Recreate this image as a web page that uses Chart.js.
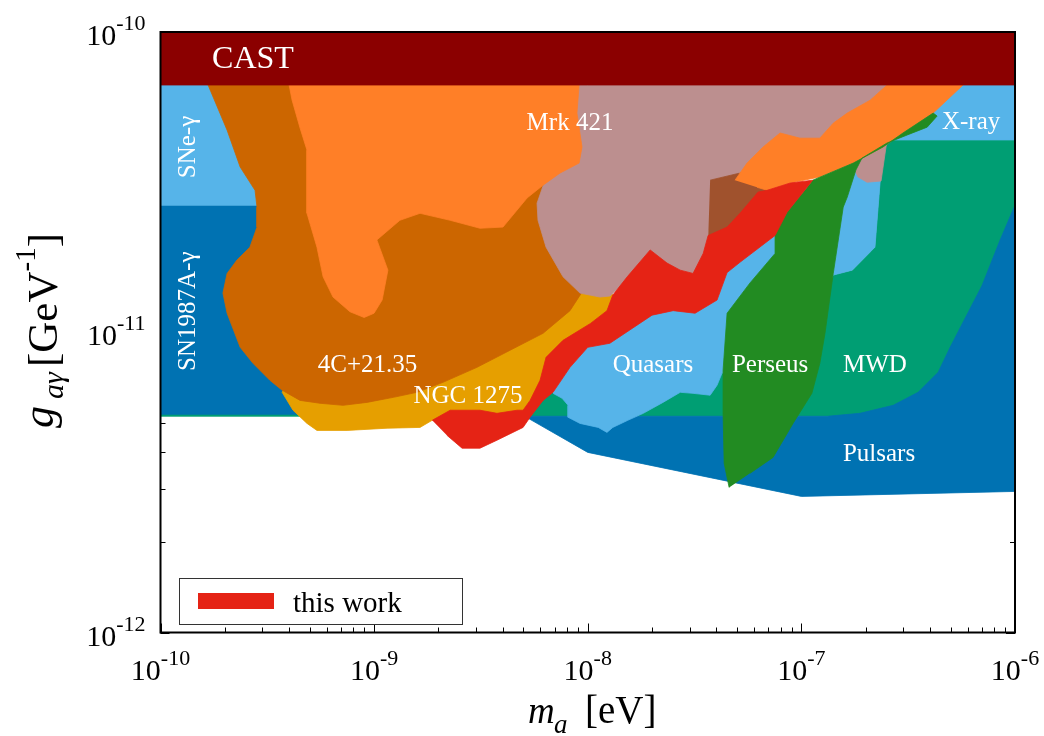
<!DOCTYPE html>
<html>
<head>
<meta charset="utf-8">
<script src="https://cdn.jsdelivr.net/npm/chart.js@4.4.1/dist/chart.umd.min.js"></script>
<style>
html,body{margin:0;padding:0;background:#ffffff;}
#wrap{width:1044px;height:736px;}
</style>
</head>
<body>
<div id="wrap"><canvas id="c" width="1044" height="736"></canvas></div>
<script>
// ---- axis ticks (exponents of the decades) ----
const xTickExps = [-10, -9, -8, -7, -6];
const yTickExps = [-12, -11, -10];

// ---- excluded regions: [m_a (eV), g_a\u03b3 (GeV^-1)] polygon vertices ----
const castRegion = [[1e-10,1e-10],[1e-6,1e-10],[1e-6,6.66e-11],[1e-10,6.66e-11]];
const sneGamma = [[1e-10,7e-11],[4.5e-10,7e-11],[4.5e-10,2.65e-11],[1e-10,2.65e-11]];
const sn1987a = [[1e-10,2.65e-11],[4.5e-10,2.65e-11],[4.5e-10,5.33e-12],[1e-10,5.33e-12]];
const xray = [[1.69e-7,7e-11],[1e-6,7e-11],[1e-6,4.37e-11],[1.69e-7,4.37e-11]];
const mwd = [[1e-10,5.25e-12],[1e-6,5.25e-12],[1e-6,4.37e-11],[2.47e-7,4.37e-11],[2.34e-7,3.21e-11],[2.21e-7,1.92e-11],[1.73e-7,1.61e-11],[1.41e-7,1.55e-11],[6.41e-8,1.015e-11],[3.36e-8,6.92e-12],[1.14e-8,6.66e-12],[4.82e-9,6.92e-12],[1e-10,6.92e-12]];
const pulsars = [[5.09e-9,5.25e-12],[1.32e-7,5.25e-12],[1.88e-7,5.37e-12],[2.69e-7,5.71e-12],[3.52e-7,6.31e-12],[4.37e-7,7.36e-12],[4.97e-7,8.91e-12],[5.84e-7,1.113e-11],[7.01e-7,1.43e-11],[8.52e-7,2.03e-11],[1e-6,2.65e-11],[1e-6,2.95e-12],[1.0e-7,2.84e-12],[1.0e-8,3.98e-12],[5.26e-9,5.17e-12]];
const quasars = [[6.88e-9,6.26e-12],[7.58e-9,6.03e-12],[8.09e-9,5.71e-12],[8.09e-9,5.21e-12],[9.2e-9,4.97e-12],[1.12e-8,4.82e-12],[1.23e-8,4.64e-12],[1.31e-8,4.82e-12],[1.54e-8,5.09e-12],[1.82e-8,5.37e-12],[2.25e-8,5.84e-12],[2.71e-8,6.31e-12],[3.11e-8,6.26e-12],[3.74e-8,6.17e-12],[4.03e-8,6.66e-12],[4.25e-8,7.30e-12],[6.41e-8,8.07e-12],[1.04e-7,1.015e-11],[1.41e-7,1.55e-11],[1.73e-7,1.61e-11],[2.21e-7,1.92e-11],[2.34e-7,3.21e-11],[2.34e-7,3.41e-11],[1.78e-7,3.60e-11],[1.22e-7,3.09e-11],[8.85e-8,2.75e-11],[6.41e-8,2.40e-11],[4.64e-8,1.95e-11],[3.36e-8,1.55e-11],[2.18e-8,1.38e-11],[1.42e-8,1.096e-11],[1.03e-8,9.40e-12],[7.83e-9,8.07e-12],[6.52e-9,6.66e-12]];
const ngc1275 = [[4.04e-10,6.92e-12],[3.71e-10,6.31e-12],[4.17e-10,5.50e-12],[4.85e-10,4.97e-12],[5.40e-10,4.71e-12],[7.47e-10,4.71e-12],[1.15e-9,4.79e-12],[1.64e-9,4.82e-12],[1.87e-9,5.09e-12],[2.53e-9,5.17e-12],[3.89e-9,5.09e-12],[5.09e-9,5.41e-12],[5.85e-9,6.17e-12],[6.81e-9,7.47e-12],[8.72e-9,9.40e-12],[1.23e-8,1.157e-11],[1.34e-8,1.32e-11],[1.14e-8,1.43e-11],[7.42e-9,1.38e-11],[2.27e-9,1.015e-11],[7.71e-10,7.47e-12]];
const fourC2135 = [[1.63e-10,7.0e-11],[1.67e-10,6.66e-11],[2.05e-10,4.71e-11],[2.36e-10,3.55e-11],[2.77e-10,2.97e-11],[2.83e-10,2.61e-11],[2.83e-10,2.24e-11],[2.62e-10,1.92e-11],[2.28e-10,1.74e-11],[2.05e-10,1.57e-11],[1.96e-10,1.35e-11],[2.05e-10,1.157e-11],[2.36e-10,8.91e-12],[2.71e-10,7.88e-12],[3.25e-10,6.92e-12],[3.71e-10,6.41e-12],[4.5e-10,5.93e-12],[5.58e-10,5.80e-12],[7.15e-10,5.71e-12],[9.26e-10,5.84e-12],[1.23e-9,6.07e-12],[1.59e-9,6.31e-12],[2.10e-9,6.81e-12],[3.03e-9,7.64e-12],[4.33e-9,8.71e-12],[6.18e-9,9.92e-12],[8.26e-9,1.18e-11],[9.40e-9,1.36e-11],[7.83e-9,2.03e-11],[7.42e-9,3.21e-11],[7.42e-9,7.0e-11]];
const mauveRegion = [[6.31e-9,7.0e-11],[6.31e-9,3.21e-11],[5.79e-9,2.69e-11],[5.85e-9,2.36e-11],[6.38e-9,1.92e-11],[7.66e-9,1.53e-11],[9.2e-9,1.35e-11],[1.14e-8,1.31e-11],[1.27e-8,1.32e-11],[1.53e-8,1.49e-11],[1.96e-8,1.83e-11],[2.35e-8,1.66e-11],[2.71e-8,1.57e-11],[3.11e-8,1.54e-11],[3.47e-8,1.79e-11],[3.66e-8,2.06e-11],[3.82e-8,2.75e-11],[5.16e-8,3.41e-11],[5.45e-8,3.34e-11],[9.86e-8,3.89e-11],[1.69e-7,4.54e-11],[1.69e-7,3.75e-11],[1.84e-7,3.29e-11],[2.03e-7,3.16e-11],[2.36e-7,3.19e-11],[2.49e-7,4.14e-11],[2.55e-7,4.54e-11],[3.06e-7,7.0e-11]];
const siennaRegion = [[3.74e-8,3.21e-11],[4.89e-8,3.36e-11],[6.41e-8,3.52e-11],[7.14e-8,2.86e-11],[5.45e-8,2.45e-11],[4.64e-8,2.15e-11],[3.66e-8,2.03e-11]];
const mrk421 = [[3.91e-10,7.0e-11],[4.0e-10,6.66e-11],[4.13e-10,5.93e-11],[4.5e-10,4.79e-11],[4.85e-10,4.04e-11],[4.85e-10,2.49e-11],[5.40e-10,1.92e-11],[5.77e-10,1.53e-11],[6.42e-10,1.31e-11],[7.71e-10,1.17e-11],[8.98e-10,1.12e-11],[9.99e-10,1.157e-11],[1.09e-9,1.28e-11],[1.16e-9,1.61e-11],[1.03e-9,2.03e-11],[1.32e-9,2.36e-11],[1.64e-9,2.49e-11],[2.27e-9,2.36e-11],[3.13e-9,2.22e-11],[4.01e-9,2.24e-11],[5.20e-9,2.80e-11],[6.18e-9,3.09e-11],[7.42e-9,3.39e-11],[9.11e-9,3.66e-11],[9.40e-9,4.14e-11],[8.90e-9,5.37e-11],[9.11e-9,6.66e-11],[9.11e-9,7.0e-11]];
const orangeBand = [[4.89e-8,3.21e-11],[5.57e-8,3.66e-11],[6.62e-8,4.14e-11],[7.95e-8,4.61e-11],[9.86e-8,4.43e-11],[1.22e-7,4.43e-11],[1.41e-7,4.97e-11],[1.64e-7,5.37e-11],[2.10e-7,5.93e-11],[2.52e-7,6.66e-11],[2.52e-7,7.0e-11],[5.71e-7,7.0e-11],[5.71e-7,6.66e-11],[4.14e-7,5.37e-11],[2.99e-7,4.61e-11],[2.41e-7,4.14e-11],[1.75e-7,3.66e-11],[1.22e-7,3.29e-11],[8.85e-8,3.14e-11],[6.91e-8,2.97e-11],[6.20e-8,3.04e-11]];
const perseus = [[4.59e-8,3.04e-12],[4.35e-8,3.66e-12],[4.30e-8,5.37e-12],[4.30e-8,7.47e-12],[4.49e-8,1.157e-11],[5.75e-8,1.46e-11],[7.53e-8,1.83e-11],[7.53e-8,2.14e-11],[8.57e-8,2.51e-11],[1.13e-7,3.21e-11],[1.75e-7,3.66e-11],[2.41e-7,4.14e-11],[2.99e-7,4.61e-11],[4.14e-7,5.37e-11],[4.32e-7,5.25e-11],[3.88e-7,4.82e-11],[3.13e-7,4.54e-11],[2.52e-7,4.27e-11],[1.92e-7,3.80e-11],[1.80e-7,3.47e-11],[1.64e-7,2.82e-11],[1.57e-7,2.61e-11],[1.41e-7,1.57e-11],[1.29e-7,9.92e-12],[1.22e-7,7.88e-12],[1.12e-7,6.26e-12],[9.14e-8,4.97e-12],[7.37e-8,3.83e-12],[5.75e-8,3.39e-12]];
const thisWork = [[1.87e-9,5.09e-12],[2.27e-9,5.50e-12],[3.13e-9,5.50e-12],[3.76e-9,5.37e-12],[4.67e-9,5.50e-12],[4.98e-9,5.50e-12],[5.37e-9,5.93e-12],[5.98e-9,6.92e-12],[6.38e-9,8.25e-12],[7.66e-9,9.40e-12],[1.03e-8,1.07e-11],[1.23e-8,1.18e-11],[1.31e-8,1.33e-11],[1.53e-8,1.53e-11],[1.96e-8,1.88e-11],[2.35e-8,1.70e-11],[2.71e-8,1.61e-11],[3.11e-8,1.57e-11],[3.47e-8,1.83e-11],[3.66e-8,2.10e-11],[4.49e-8,2.24e-11],[5.16e-8,2.49e-11],[6.27e-8,2.93e-11],[6.91e-8,2.97e-11],[8.85e-8,3.14e-11],[1.13e-7,3.21e-11],[8.57e-8,2.51e-11],[7.53e-8,2.10e-11],[5.16e-8,1.71e-11],[4.49e-8,1.58e-11],[4.03e-8,1.28e-11],[3.18e-8,1.157e-11],[2.51e-8,1.18e-11],[2.00e-8,1.14e-11],[1.27e-8,9.19e-12],[1.00e-8,8.91e-12],[8.26e-9,7.64e-12],[6.88e-9,6.31e-12],[6.18e-9,5.93e-12],[5.37e-9,5.21e-12],[4.98e-9,4.82e-12],[3.76e-9,4.37e-12],[3.13e-9,4.11e-12],[2.58e-9,4.11e-12],[2.19e-9,4.54e-12]];

// ---- region labels: [text, m_a, g, font size] ----
const regionLabels = [
  ['CAST', 2.71e-10, 7.59e-11, 32],
  ['Mrk 421', 8.26e-9, 4.71e-11, 25],
  ['X-ray', 6.23e-7, 4.75e-11, 25],
  ['4C+21.35', 9.31e-10, 7.36e-12, 25],
  ['NGC 1275', 2.75e-9, 5.80e-12, 25],
  ['Quasars', 2.02e-8, 7.36e-12, 25],
  ['Perseus', 7.14e-8, 7.36e-12, 25],
  ['MWD', 2.21e-7, 7.36e-12, 25],
  ['Pulsars', 2.31e-7, 3.72e-12, 25]
];
const verticalLabels = [
  ['SNe-\u03b3', 1.45e-10, 4.14e-11],
  ['SN1987A-\u03b3', 1.45e-10, 1.175e-11]
];

const layers = [
  ['MWD', mwd, '#009E73'],
  ['Pulsars', pulsars, '#0072B2'],
  ['SN1987A', sn1987a, '#0072B2'],
  ['SNe', sneGamma, '#56B4E9'],
  ['X-ray', xray, '#56B4E9'],
  ['Quasars', quasars, '#56B4E9'],
  ['NGC 1275', ngc1275, '#E69F00'],
  ['4C+21.35', fourC2135, '#CC6600'],
  ['mauve', mauveRegion, '#BC8F8F'],
  ['sienna', siennaRegion, '#A0522D'],
  ['Mrk 421', mrk421, '#FF7F27'],
  ['orange band', orangeBand, '#FF7F27'],
  ['Perseus', perseus, '#228B22'],
  ['this work', thisWork, '#E52315'],
  ['CAST', castRegion, '#8B0000']
];

const N = layers.length;
const datasets = layers.map((l, i) => ({
  label: l[0],
  data: l[1].map(p => ({x: p[0], y: p[1]})),
  backgroundColor: l[2],
  borderColor: l[2],
  borderWidth: 0.8,
  borderJoinStyle: 'round',
  fill: 'shape',
  pointRadius: 0,
  pointHoverRadius: 0,
  tension: 0,
  order: N - i
}));

const serif = '"Liberation Serif", "Times New Roman", Times, serif';

function drawPow(ctx, base, exp, x, y, align, bSize, eSize, rise) {
  ctx.font = bSize + 'px ' + serif;
  const wb = ctx.measureText(base).width;
  ctx.font = eSize + 'px ' + serif;
  const we = ctx.measureText(exp).width;
  const x0 = align === 'center' ? x - (wb + we) / 2 : x - (wb + we);
  ctx.textAlign = 'left';
  ctx.textBaseline = 'alphabetic';
  ctx.font = bSize + 'px ' + serif;
  ctx.fillText(base, x0, y);
  ctx.font = eSize + 'px ' + serif;
  ctx.fillText(exp, x0 + wb, y - rise);
}

// draws text runs; a run with "at" starts at that offset, else follows the previous run
function drawRuns(ctx, runs, y) {
  let x = 0;
  for (const r of runs) {
    if (r.at !== undefined) x = r.at;
    ctx.font = r.font;
    ctx.fillText(r.t, x, y + (r.dy || 0));
    x += ctx.measureText(r.t).width;
  }
}

const decor = {
  id: 'decor',
  beforeDatasetsDraw(chart) {
    const {ctx, chartArea: a, scales: {x, y}} = chart;
    ctx.save();
    ctx.strokeStyle = '#000';
    ctx.lineWidth = 1;
    ctx.beginPath();
    for (let e = xTickExps[0]; e < xTickExps[xTickExps.length - 1]; e++) {
      for (let k = 1; k <= 9; k++) {
        const px = Math.round(x.getPixelForValue(k * Math.pow(10, e))) + 0.5;
        const len = k === 1 ? 9 : 5;
        ctx.moveTo(px, a.bottom); ctx.lineTo(px, a.bottom - len);
        ctx.moveTo(px, a.top); ctx.lineTo(px, a.top + len);
      }
    }
    for (let e = yTickExps[0]; e < yTickExps[yTickExps.length - 1]; e++) {
      for (let k = 1; k <= 9; k++) {
        const py = Math.round(y.getPixelForValue(k * Math.pow(10, e))) + 0.5;
        const len = k === 1 ? 9 : 5;
        ctx.moveTo(a.left, py); ctx.lineTo(a.left + len, py);
        ctx.moveTo(a.right, py); ctx.lineTo(a.right - len, py);
      }
    }
    ctx.stroke();
    ctx.restore();
  },
  afterDatasetsDraw(chart) {
    const {ctx, chartArea: a, scales: {x, y}} = chart;
    ctx.save();
    ctx.fillStyle = '#ffffff';
    ctx.textAlign = 'center';
    ctx.textBaseline = 'alphabetic';
    for (const [t, m, g, s] of regionLabels) {
      ctx.font = s + 'px ' + serif;
      ctx.fillText(t, x.getPixelForValue(m), y.getPixelForValue(g));
    }
    ctx.font = '25px ' + serif;
    for (const [t, m, g] of verticalLabels) {
      ctx.save();
      ctx.translate(x.getPixelForValue(m), y.getPixelForValue(g));
      ctx.rotate(-Math.PI / 2);
      ctx.textAlign = 'center';
      ctx.fillText(t, 0, 0);
      ctx.restore();
    }
    ctx.strokeStyle = '#000';
    ctx.lineWidth = 2;
    ctx.strokeRect(a.left, a.top, a.right - a.left, a.bottom - a.top);
    ctx.lineWidth = 1;
    ctx.strokeStyle = '#333';
    ctx.fillStyle = '#ffffff';
    ctx.fillRect(179.5, 578.5, 283, 46);
    ctx.strokeRect(179.5, 578.5, 283, 46);
    ctx.fillStyle = layers[13][2];
    ctx.fillRect(198, 593, 76, 16);
    ctx.fillStyle = '#000';
    ctx.font = '29px ' + serif;
    ctx.textAlign = 'left';
    ctx.fillText(layers[13][0], 293, 612);
    ctx.restore();
  },
  afterDraw(chart) {
    const {ctx, chartArea: a, scales: {x, y}} = chart;
    ctx.save();
    ctx.fillStyle = '#000';
    ctx.textBaseline = 'alphabetic';
    for (const e of xTickExps) {
      const px = x.getPixelForValue(Math.pow(10, e));
      drawPow(ctx, '10', String(e), px, a.bottom + 47.5, 'center', 30, 22, 15);
    }
    for (const e of yTickExps) {
      const py = y.getPixelForValue(Math.pow(10, e));
      drawPow(ctx, '10', String(e), a.left - 15, py + 13, 'right', 30, 22, 15);
    }
    ctx.textAlign = 'left';
    // x axis title
    ctx.save();
    ctx.translate(528, 723);
    drawRuns(ctx, [
      {t: 'm', font: 'italic 37px ' + serif, at: 0},
      {t: 'a', font: 'italic 27px ' + serif, dy: 10, at: 26},
      {t: '[eV]', font: '39px ' + serif, at: 57}
    ], 0);
    ctx.restore();
    // y axis title (rotated)
    ctx.save();
    ctx.translate(57, 330);
    ctx.rotate(-Math.PI / 2);
    drawRuns(ctx, [
      {t: 'g', font: 'italic 44px ' + serif, dy: -4, at: -98},
      {t: 'a\u03b3', font: 'italic 30px ' + serif, dy: 6, at: -69},
      {t: '[GeV', font: '43px ' + serif, at: -37},
      {t: '-1', font: '29px ' + serif, dy: -22},
      {t: ']', font: '43px ' + serif}
    ], 0);
    ctx.restore();
    ctx.restore();
  }
};

new Chart(document.getElementById('c'), {
  type: 'line',
  data: {datasets},
  options: {
    responsive: false,
    animation: false,
    devicePixelRatio: 1,
    layout: {padding: {left: 160.5, right: 29, top: 32, bottom: 103.5}},
    scales: {
      x: {type: 'logarithmic', min: 1e-10, max: 1e-6, display: false},
      y: {type: 'logarithmic', min: 1e-12, max: 1e-10, display: false}
    },
    plugins: {legend: {display: false}, tooltip: {enabled: false}},
    events: []
  },
  plugins: [decor]
});
</script>
</body>
</html>
